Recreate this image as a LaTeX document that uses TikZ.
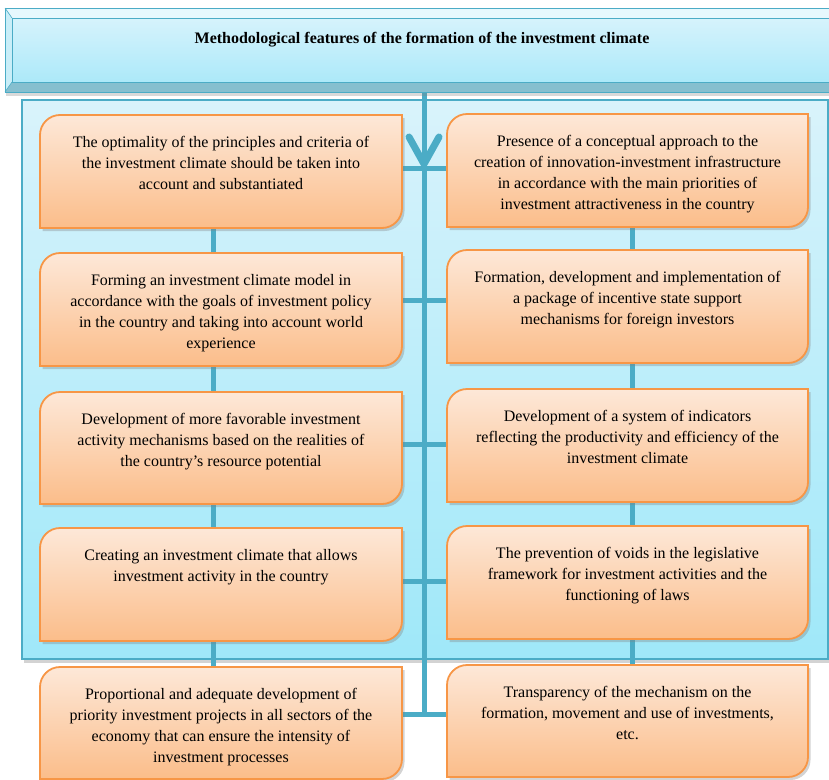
\documentclass[tikz,border=0pt]{standalone}
\usepackage{fontspec}
\setmainfont{Liberation Serif}
\usetikzlibrary{shadows,backgrounds}

\definecolor{aqua}{HTML}{4BACC6}
\definecolor{orng}{HTML}{F79646}
\definecolor{peachtop}{HTML}{FDE8D8}
\definecolor{peachbot}{HTML}{FBBD8A}
\definecolor{paneltop}{HTML}{D9F3FB}
\definecolor{panelbot}{HTML}{9FE8F9}
\definecolor{facetop}{HTML}{D6F3FC}
\definecolor{facebot}{HTML}{ACE9F9}
\definecolor{beveltop}{HTML}{E6F8FD}
\definecolor{bevelleft}{HTML}{C9EEF8}
\definecolor{bevelbot}{HTML}{86BFCF}

\tikzset{
  featshape/.style={draw=orng, line width=1.8pt, top color=peachtop, bottom color=peachbot,
    drop shadow={opacity=0.35, shadow xshift=2.5pt, shadow yshift=-3pt}},
  featarea/.style={rectangle, inner sep=0pt},
  feattext/.style={anchor=north, align=center, inner sep=0pt, text=black,
    font=\fontsize{16}{21}\selectfont},
  conn/.style={draw=aqua, line width=5pt},
  chevron/.style={draw=aqua, line width=7pt, line cap=round, line join=round},
}

% feature box: rounded top-left and bottom-right corners
% #1 name, #2 left, #3 top, #4 right, #5 bottom, #6 text
\newcommand\featbox[6]{%
  \path[featshape] (#2,#5) -- (#2,{#3+20})
    .. controls (#2,{#3+9}) and ({#2+9},#3) .. ({#2+20},#3)
    -- (#4,#3) -- (#4,{#5-20})
    .. controls (#4,{#5-9}) and ({#4-9},#5) .. ({#4-20},#5) -- cycle;
  \node[featarea, minimum width={#4-#2}, minimum height={#5-#3}] (#1)
    at ({(#2+#4)/2},{(#3+#5)/2}) {};
  \node[feattext] (#1t) at ({(#2+#4)/2},{#3+21}) {#6};
}

\begin{document}
\begin{tikzpicture}[x=1pt,y=-1pt]
\useasboundingbox (0,0) rectangle (829,779);
\clip (0,0) rectangle (829,779);

% large panel behind the upper eight boxes
\begin{scope}[on background layer]
  \path[draw=aqua, line width=2.5pt, top color=paneltop, bottom color=panelbot,
    drop shadow={opacity=0.35, shadow xshift=2pt, shadow yshift=-4pt}]
    (22,100) rectangle (828,659);
\end{scope}

% bevelled title bar
\path[fill=bevelbot, drop shadow={opacity=0.3, shadow xshift=1pt, shadow yshift=-4pt}]
  (5,8) rectangle (840,92);
\fill[beveltop] (5,8) -- (840,8) -- (840,18) -- (12,18) -- cycle;
\fill[bevelleft] (5,8) -- (12,18) -- (12,82) -- (5,92) -- cycle;
\shade[top color=facetop, bottom color=facebot] (12,18) rectangle (840,82);
\draw[aqua, line width=0.8pt] (5,8) rectangle (840,92);
\draw[aqua, line width=0.8pt] (12,18) rectangle (840,82);
\draw[aqua, line width=0.6pt] (5,8) -- (12,18) (5,92) -- (12,82);
\node[font=\bfseries\fontsize{16}{18}\selectfont] (T) at (422,40)
  {Methodological features of the formation of the investment climate};
\coordinate (top) at (424,92);

% left column
\featbox{L1}{40}{115}{402}{228}{The optimality of the principles and criteria of\\
  the investment climate should be taken into\\account and substantiated}
\featbox{L2}{40}{253}{402}{366}{Forming an investment climate model in\\
  accordance with the goals of investment policy\\in the country and taking into account world\\experience}
\featbox{L3}{40}{392}{402}{504}{Development of more favorable investment\\
  activity mechanisms based on the realities of\\the country's resource potential}
\featbox{L4}{40}{528}{402}{641}{Creating an investment climate that allows\\
  investment activity in the country}
\featbox{L5}{40}{667}{402}{779}{Proportional and adequate development of\\
  priority investment projects in all sectors of the\\economy that can ensure the intensity of\\investment processes}

% right column
\featbox{R1}{447}{114}{808}{227}{Presence of a conceptual approach to the\\
  creation of innovation-investment infrastructure\\in accordance with the main priorities of\\investment attractiveness in the country}
\featbox{R2}{447}{250}{808}{363}{Formation, development and implementation of\\
  a package of incentive state support\\mechanisms for foreign investors}
\featbox{R3}{447}{389}{808}{502}{Development of a system of indicators\\
  reflecting the productivity and efficiency of the\\investment climate}
\featbox{R4}{447}{526}{808}{639}{The prevention of voids in the legislative\\
  framework for investment activities and the\\functioning of laws}
\featbox{R5}{447}{665}{808}{777}{Transparency of the mechanism on the\\
  formation, movement and use of investments,\\etc.}

% connectors
\coordinate (lv) at (213,0);
\coordinate (rv) at (632,0);
\coordinate (h1) at (424,168);
\coordinate (h2) at (424,300);
\coordinate (h3) at (424,444);
\coordinate (h4) at (424,581);
\coordinate (h5) at (424,714);
\coordinate (bot) at (424,717);
\begin{scope}[on background layer]
  \draw[conn] (top) -- (bot);
  \foreach \i in {1,...,5}{
    \draw[conn] (L\i.east |- h\i) -- (R\i.west |- h\i);
  }
  \foreach \i/\j in {1/2,2/3,3/4,4/5}{
    \draw[conn] (L\i.south -| lv) -- (L\j.north -| lv);
    \draw[conn] (R\i.south -| rv) -- (R\j.north -| rv);
  }
  \draw[chevron] (409,137) -- (424,164) -- (439,137);
\end{scope}
\end{tikzpicture}
\end{document}
